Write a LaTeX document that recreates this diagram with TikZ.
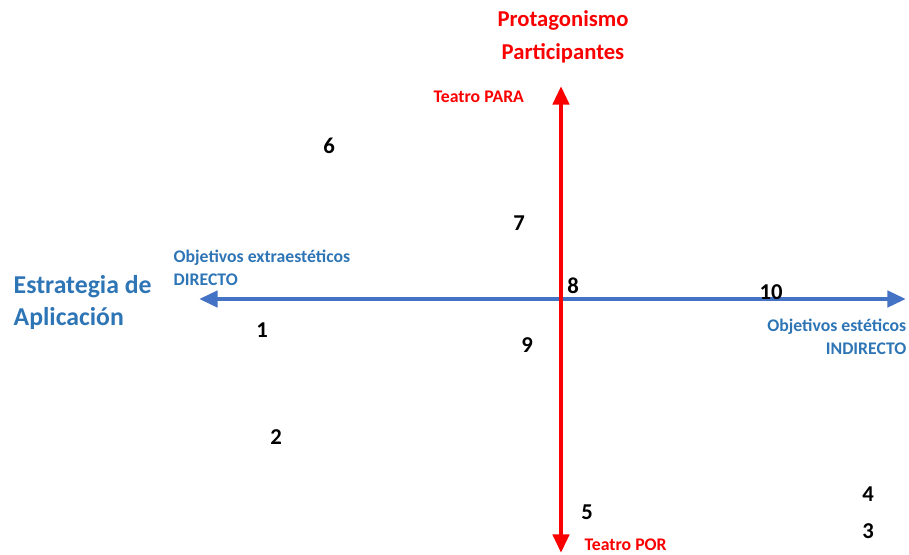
\documentclass[tikz,border=0pt]{standalone}
\usepackage{fontspec}
\setmainfont{Carlito}
\usetikzlibrary{arrows.meta}

\definecolor{axisred}{RGB}{250,0,0}
\definecolor{axisblue}{RGB}{68,114,196}
\definecolor{lblblue}{RGB}{46,117,182}

\begin{document}
\begin{tikzpicture}[x=0.75pt, y=-0.75pt, font=\bfseries,
	num/.style={font=\fontsize{17}{20}\selectfont\bfseries},
	redlbl/.style={text=axisred, font=\fontsize{13.3}{16}\selectfont\bfseries},
	bluelbl/.style={text=lblblue, align=left, font=\fontsize{13.3}{17.5}\selectfont\bfseries},
	axis/.style={line width=3.4pt, {Triangle[length=14pt, width=12pt]}-{Triangle[length=14pt, width=12pt]}}]

	\useasboundingbox (0,0) rectangle (909,554);

	% titles
	\node[text=axisred, align=center, font=\fontsize{17}{24.5}\selectfont\bfseries] (prot) at (563,37) {Protagonismo\\Participantes};
	\node[text=lblblue, align=left, anchor=west, font=\fontsize{19.3}{24}\selectfont\bfseries] (estr) at (9,302) {Estrategia de\\Aplicación};

	% axis labels
	\node[redlbl, anchor=west] (para) at (429,97) {Teatro PARA};
	\node[redlbl, anchor=west] (por) at (580,545) {Teatro POR};
	\node[bluelbl, anchor=west] (direc) at (169,268) {Objetivos extraestéticos\\DIRECTO};
	\node[bluelbl, align=right, anchor=east] (indir) at (911,337) {Objetivos estéticos\\INDIRECTO};

	% axes
	\coordinate (west) at (199,299);
	\coordinate (east) at (906,299);
	\coordinate (north) at (561,86);
	\coordinate (south) at (561,553);
	\draw[axis, axisblue] (west) -- (east);
	\draw[axis, axisred] (north) -- (south);

	% numbers
	\node[num] (n1) at (262,330) {1};
	\node[num] (n2) at (276,437) {2};
	\node[num] (n3) at (868,531) {3};
	\node[num] (n4) at (868,494) {4};
	\node[num] (n5) at (587,512) {5};
	\node[num] (n6) at (329,146) {6};
	\node[num] (n7) at (519,223) {7};
	\node[num] (n8) at (573,286) {8};
	\node[num] (n9) at (527,345) {9};
	\node[num] (n10) at (771,292) {10};

\end{tikzpicture}
\end{document}
